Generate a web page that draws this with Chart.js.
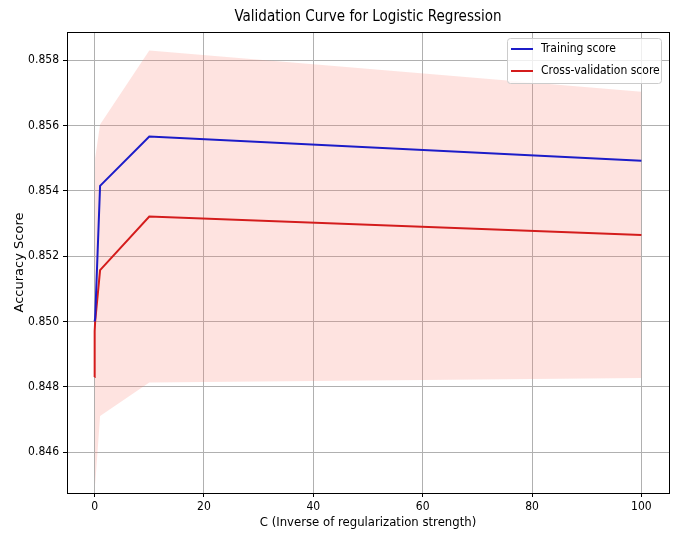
<!DOCTYPE html>
<html>
<head>
<meta charset="utf-8">
<script src="https://cdn.jsdelivr.net/npm/chart.js@4/dist/chart.umd.min.js"></script>
<style>
  html, body { margin: 0; padding: 0; background: #fff; }
  #wrap { width: 677px; height: 540px; }
</style>
</head>
<body>
<div id="wrap"><canvas id="myChart" width="677" height="540"></canvas></div>
<script>
// values
const cValues = [0.001, 0.01, 0.1, 1, 10, 100];
const trainScores = [0.8500, 0.8500, 0.8501, 0.85415, 0.85566, 0.85492];
const cvScores = [0.8483, 0.8497, 0.8500, 0.85157, 0.85321, 0.85265];
const cvStd = [0.0030, 0.0042, 0.0050, 0.00446, 0.00508, 0.00438];

const xTicks = [0, 20, 40, 60, 80, 100];
const yTicks = [0.846, 0.848, 0.850, 0.852, 0.854, 0.856, 0.858];

const chartTitle = 'Validation Curve for Logistic Regression';
const xLabel = 'C (Inverse of regularization strength)';
const yLabel = 'Accuracy Score';

const FONT = "'DejaVu Sans Condensed', 'Liberation Sans Narrow', 'DejaVu Sans', sans-serif";

const pts = arr => cValues.map((c, i) => ({ x: c, y: arr[i] }));
const lower = cvScores.map((v, i) => v - cvStd[i]);
const upper = cvScores.map((v, i) => v + cvStd[i]);

// frame, title and legend drawn like matplotlib does
const framePlugin = {
    id: 'frame',
    afterDraw(chart) {
        const { ctx, chartArea: a } = chart;
        ctx.save();
        ctx.strokeStyle = '#000';
        ctx.lineWidth = 1;
        ctx.strokeRect(a.left + 0.5, a.top + 0.5, a.right - a.left, a.bottom - a.top);

        ctx.fillStyle = '#000';
        ctx.font = '15px ' + FONT;
        ctx.textAlign = 'center';
        ctx.textBaseline = 'middle';
        ctx.fillText(chartTitle, (a.left + a.right) / 2, 17);

        // legend box
        const items = [chart.data.datasets[0], chart.data.datasets[1]];
        const bx = 507, by = 38, bw = 154, bh = 45;
        ctx.fillStyle = 'rgba(255,255,255,0.8)';
        ctx.strokeStyle = '#cccccc';
        ctx.beginPath();
        ctx.roundRect(bx + 0.5, by + 0.5, bw, bh, 3);
        ctx.fill();
        ctx.stroke();
        ctx.font = '12px ' + FONT;
        ctx.textAlign = 'left';
        items.forEach((ds, i) => {
            const y = by + 11 + i * 22;
            ctx.strokeStyle = ds.borderColor;
            ctx.lineWidth = 2;
            ctx.beginPath();
            ctx.moveTo(bx + 4, y);
            ctx.lineTo(bx + 26, y);
            ctx.stroke();
            ctx.fillStyle = '#000';
            ctx.fillText(ds.label, bx + 34, y);
        });
        ctx.restore();
    }
};

const ctx = document.getElementById('myChart').getContext('2d');
const myChart = new Chart(ctx, {
    type: 'line',
    data: {
        datasets: [
            {
                label: 'Training score',
                data: pts(trainScores),
                borderColor: '#1c1cc8',
                borderWidth: 2,
                pointRadius: 0,
                fill: false,
                order: 0
            },
            {
                label: 'Cross-validation score',
                data: pts(cvScores),
                borderColor: '#d41c1c',
                borderWidth: 2,
                pointRadius: 0,
                fill: false,
                order: 1
            },
            {
                label: 'cv lower',
                data: pts(lower),
                borderWidth: 0,
                borderColor: 'rgba(0,0,0,0)',
                pointRadius: 0,
                fill: false,
                order: 3
            },
            {
                label: 'cv upper',
                data: pts(upper),
                borderWidth: 0,
                borderColor: 'rgba(0,0,0,0)',
                pointRadius: 0,
                backgroundColor: 'rgba(250, 128, 114, 0.22)',
                fill: '-1',
                order: 2
            }
        ]
    },
    options: {
        responsive: false,
        animation: false,
        layout: { padding: { top: 32, right: 8, left: 0, bottom: 0 } },
        plugins: {
            legend: { display: false },
            tooltip: { enabled: false }
        },
        scales: {
            x: {
                type: 'linear',
                min: -5.05,
                max: 105.05,
                afterBuildTicks: axis => { axis.ticks = xTicks.map(v => ({ value: v })); },
                afterFit: scale => { scale.height = 47; },
                grid: { color: '#b0b0b0', tickColor: '#000', tickLength: 4, lineWidth: 1 },
                border: { display: false },
                ticks: {
                    color: '#000',
                    padding: 3,
                    maxRotation: 0,
                    font: { family: FONT, size: 12 },
                    callback: v => String(v)
                },
                title: {
                    display: true,
                    text: xLabel,
                    color: '#000',
                    font: { family: FONT, size: 13 },
                    padding: { top: 0, bottom: 10 }
                }
            },
            y: {
                min: 0.84475,
                max: 0.85886,
                afterBuildTicks: axis => { axis.ticks = yTicks.map(v => ({ value: v })); },
                afterFit: scale => { scale.width = 67; },
                grid: { color: '#b0b0b0', tickColor: '#000', tickLength: 4, lineWidth: 1 },
                border: { display: false },
                ticks: {
                    color: '#000',
                    padding: 4,
                    font: { family: FONT, size: 12 },
                    callback: v => Number(v).toFixed(3)
                },
                title: {
                    display: true,
                    text: yLabel,
                    color: '#000',
                    font: { family: "'DejaVu Sans', sans-serif", size: 13 },
                    padding: { top: 12, bottom: 0 }
                }
            }
        }
    },
    plugins: [framePlugin]
});
</script>
</body>
</html>
